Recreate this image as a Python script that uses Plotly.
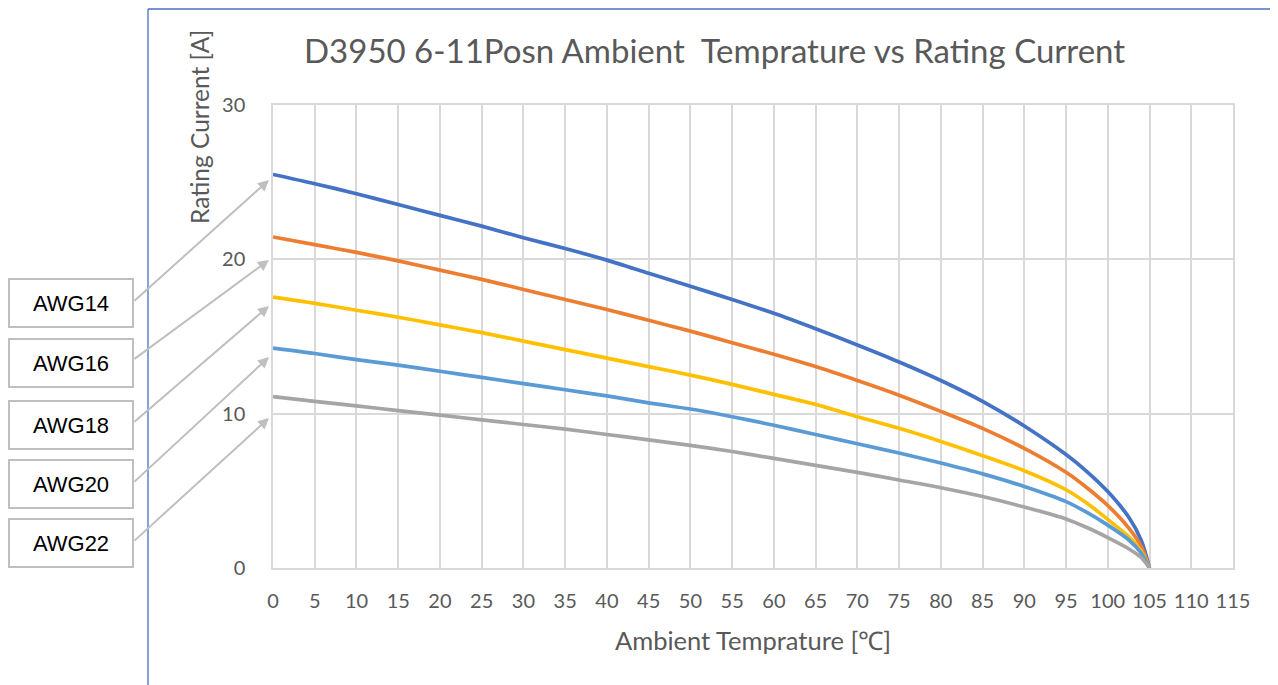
import plotly.graph_objects as go

temps = [0, 5, 10, 15, 20, 25, 30, 35, 40, 45, 50, 55, 60, 65, 70, 75, 80, 85, 90, 95, 97.5, 100, 102.5, 104, 105]
awg14 = [25.5, 24.9, 24.25, 23.55, 22.85, 22.15, 21.4, 20.7, 19.95, 19.1, 18.25, 17.4, 16.5, 15.5, 14.45, 13.35, 12.15, 10.8, 9.2, 7.35, 6.25, 4.95, 3.3, 1.8, 0]
awg16 = [21.45, 20.95, 20.45, 19.9, 19.3, 18.7, 18.05, 17.4, 16.75, 16.05, 15.35, 14.6, 13.85, 13.05, 12.15, 11.2, 10.15, 9.05, 7.75, 6.2, 5.2, 4.05, 2.6, 1.4, 0]
awg18 = [17.55, 17.15, 16.7, 16.25, 15.75, 15.25, 14.7, 14.15, 13.6, 13.05, 12.5, 11.9, 11.25, 10.6, 9.8, 9.05, 8.2, 7.28, 6.3, 5.07, 4.2, 3.15, 2.03, 1.08, 0]
awg20 = [14.25, 13.9, 13.5, 13.15, 12.75, 12.35, 11.95, 11.55, 11.15, 10.7, 10.3, 9.8, 9.25, 8.65, 8.05, 7.45, 6.8, 6.1, 5.28, 4.3, 3.6, 2.78, 1.83, 0.97, 0]
awg22 = [11.1, 10.8, 10.5, 10.2, 9.9, 9.6, 9.3, 9.0, 8.65, 8.3, 7.95, 7.55, 7.1, 6.65, 6.2, 5.7, 5.2, 4.63, 3.95, 3.18, 2.62, 1.97, 1.25, 0.68, 0]

series_names = ["AWG14", "AWG16", "AWG18", "AWG20", "AWG22"]
series_values = [awg14, awg16, awg18, awg20, awg22]
series_colors = ["#4472C4", "#ED7D31", "#FFC000", "#5B9BD5", "#A5A5A5"]

x_ticks = list(range(0, 120, 5))
y_ticks = [0, 10, 20, 30]

title_text = "D3950 6-11Posn Ambient  Temprature vs Rating Current"
x_title = "Ambient Temprature [℃]"
y_title = "Rating Current [A]"

FONT = "Lato, Open Sans, sans-serif"
GREY = "#595959"

# window pixel layout (page body has an 8px margin)
OFF = 8
W, H = 1278, 685
L, R, T, B = 273, 1233, 105, 568
PW, PH = R - L, B - T


def px(xp):
    return (xp - L) / PW


def py(yp):
    return (B - yp) / PH


fig = go.Figure()
for name, vals, col in zip(series_names, series_values, series_colors):
    fig.add_trace(go.Scatter(x=temps, y=vals, mode="lines", name=name,
                             line=dict(color=col, width=3.7, shape="spline", smoothing=0.8)))

box_centers = [302.5, 362.5, 424.5, 483.5, 543]
arrow_tails = [(133, 302), (133, 360), (133, 423), (133, 483), (133, 542)]
arrow_tips = [(269, 180), (269, 260), (269, 306), (269, 357), (269, 418)]

annotations = []
for name, cy, tail, tip in zip(series_names, box_centers, arrow_tails, arrow_tips):
    annotations.append(dict(
        xref="paper", yref="paper", x=px(70.5), y=py(cy), xanchor="center", yanchor="middle",
        text=name, showarrow=False, font=dict(family="Liberation Sans, Arial", size=22, color="#000000"),
        width=122, height=46, bordercolor="#BFBFBF", borderwidth=2, borderpad=0, bgcolor="white"))
    annotations.append(dict(
        xref="paper", yref="paper", x=px(tip[0]), y=py(tip[1]), text="", showarrow=True,
        ax=tail[0] - tip[0], ay=tail[1] - tip[1], arrowhead=2, arrowsize=1.1, arrowwidth=2,
        arrowcolor="#BFBFBF", standoff=0, startstandoff=0))

annotations.append(dict(
    xref="paper", yref="paper", x=px(200), y=py(127), text=y_title, textangle=-90,
    showarrow=False, xanchor="center", yanchor="middle", font=dict(family=FONT, size=24.5, color=GREY)))
annotations.append(dict(
    xref="paper", yref="paper", x=px(753), y=py(640), text=x_title,
    showarrow=False, xanchor="center", yanchor="middle", font=dict(family=FONT, size=25.5, color=GREY)))
annotations.append(dict(
    xref="paper", yref="paper", x=px(714), y=py(50), text=title_text,
    showarrow=False, xanchor="center", yanchor="middle", font=dict(family=FONT, size=33, color=GREY)))

shapes = [
    dict(type="line", xref="paper", yref="paper", x0=px(148), x1=px(148), y0=py(9), y1=py(700),
         line=dict(color="#4472C4", width=1.3)),
    dict(type="line", xref="paper", yref="paper", x0=px(148), x1=px(1300), y0=py(9), y1=py(9),
         line=dict(color="#4472C4", width=1.3)),
]

fig.update_layout(
    width=W - OFF, height=H - OFF,
    margin=dict(l=L - OFF, r=W - R, t=T - OFF, b=H - B, pad=0),
    paper_bgcolor="white", plot_bgcolor="white",
    showlegend=False,
    annotations=annotations,
    shapes=shapes,
    xaxis=dict(range=[0, 115], tickvals=x_ticks, ticktext=[str(v) for v in x_ticks],
               showgrid=True, gridcolor="#D9D9D9", gridwidth=1.5, zeroline=False,
               showline=True, linecolor="#D9D9D9", linewidth=1.5, mirror=True,
               ticks="", ticklabelstandoff=14,
               tickfont=dict(family=FONT, size=20, color=GREY)),
    yaxis=dict(range=[0, 30], tickvals=y_ticks, ticktext=[str(v) for v in y_ticks],
               showgrid=True, gridcolor="#D9D9D9", gridwidth=1.5, zeroline=False,
               showline=True, linecolor="#D9D9D9", linewidth=1.5, mirror=True,
               ticks="", ticklabelstandoff=22,
               tickfont=dict(family=FONT, size=20, color=GREY)),
)

fig.write_html("out.html")
